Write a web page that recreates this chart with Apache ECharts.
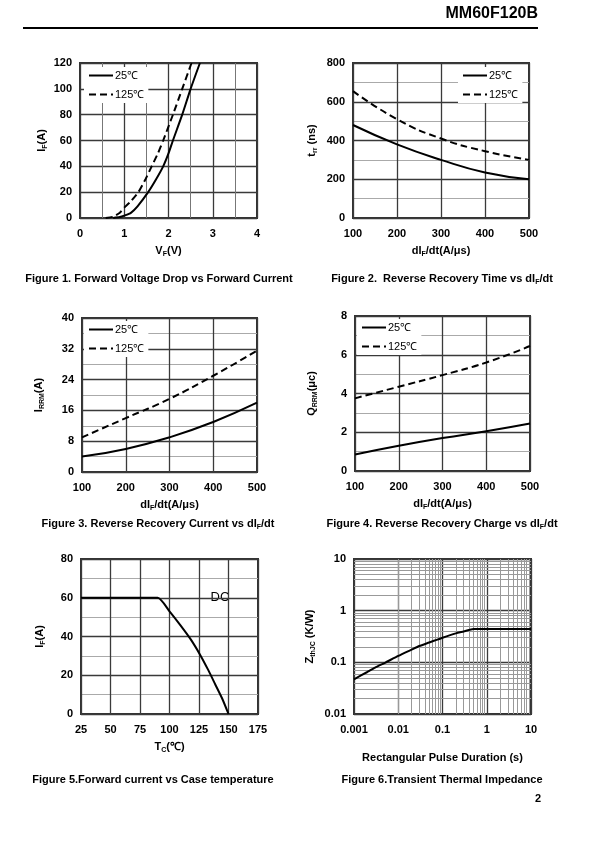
<!DOCTYPE html>
<html><head><meta charset="utf-8">
<script src="https://cdn.jsdelivr.net/npm/echarts@6/dist/echarts.min.js"></script>
<style>html,body{margin:0;padding:0;background:#fff}#c{width:595px;height:842px}</style>
</head><body><div id="c"></div>
<script>
// ---------- data ----------
const legendNames = ['25℃', '125℃'];
// Figure 1: forward voltage (V) vs forward current (A)
const f1Vf25 = [0.75, 0.9, 1.0, 1.15, 1.3, 1.54, 1.72, 1.88, 2.0, 2.1, 2.31, 2.5, 2.71];
const f1If25 = [0, 0.7, 1.8, 4, 9, 20, 30, 40, 50, 60, 80, 100, 120];
const f1Vf125 = [0.58, 0.75, 0.9, 1.0, 1.15, 1.32, 1.48, 1.62, 1.76, 1.88, 2.1, 2.31, 2.52];
const f1If125 = [0, 1, 4, 8, 13, 20, 30, 40, 50, 60, 80, 100, 120];
// Figures 2-4: dIF/dt (A/us)
const didt = [100, 200, 300, 400, 500];
const f2Trr25 = [480, 380, 300, 235, 200];
const f2Trr125 = [655, 510, 410, 345, 300];
const f3Irrm25 = [4, 6, 9, 13, 18];
const f3Irrm125 = [9, 14, 19, 25, 31.5];
const f4Qrr25 = [0.85, 1.3, 1.7, 2.05, 2.45];
const f4Qrr125 = [3.75, 4.35, 4.95, 5.6, 6.45];
// Figure 5: case temperature vs IF (DC)
const f5Tc = [25, 90, 100, 109, 118, 126, 133, 139, 145, 150];
const f5If = [60, 60, 53, 46, 38.5, 30.5, 22.5, 15, 7.5, 0];
// Figure 6: transient thermal impedance
const f6T = [0.001, 0.002, 0.003, 0.005, 0.01, 0.02, 0.03, 0.05, 0.1, 0.2, 0.3, 0.5, 1, 2, 5, 10];
const f6Z = [0.047, 0.065, 0.079, 0.098, 0.133, 0.176, 0.207, 0.242, 0.30, 0.364, 0.395, 0.44, 0.44, 0.44, 0.44, 0.44];
// log minor grid values for Figure 6
const f6MinorX = [];
[0.001, 0.01, 0.1, 1].forEach(d => { for (let k = 2; k <= 9; k++) f6MinorX.push(+(d * k).toPrecision(3)); });
const f6MinorY = [];
[0.01, 0.1, 1].forEach(d => { for (let k = 2; k <= 9; k++) f6MinorY.push(+(d * k).toPrecision(3)); });

// ---------- styles ----------
const FF = '"Liberation Sans", Arial, Helvetica, sans-serif';
const zip = (a, b) => a.map((v, i) => [v, b[i]]);
const majorLine = { show: true, lineStyle: { color: '#3a3a3a', width: 1.3 } };
const minorLine = (c) => ({ show: true, lineStyle: { color: c || '#aaa', width: 1 } });
const label = { color: '#000', fontFamily: FF, fontWeight: 'bold', fontSize: 11, margin: 10 };
const ylabel = Object.assign({}, label, { margin: 8 });
const richName = {
  m: { fontFamily: FF, fontWeight: 'bold', fontSize: 11, lineHeight: 14, color: '#000' },
  s: { fontFamily: FF, fontWeight: 'bold', fontSize: 7, lineHeight: 8, verticalAlign: 'bottom', color: '#000' }
};
function xAx(idx, o) {
  return Object.assign({
    gridIndex: idx, type: 'value', nameLocation: 'middle', nameGap: 26,
    nameTextStyle: { rich: richName },
    axisLine: { show: false }, axisTick: { show: false },
    axisLabel: label, splitLine: majorLine
  }, o);
}
function yAx(idx, o) {
  return Object.assign({
    gridIndex: idx, type: 'value', nameLocation: 'middle', nameGap: 31, nameRotate: 90,
    nameTextStyle: { rich: richName },
    axisLine: { show: false }, axisTick: { show: false },
    axisLabel: ylabel, splitLine: majorLine
  }, o);
}
const solid = { color: '#000', width: 2 };
const dashed = { color: '#000', width: 2, type: [7, 4] };
function ser(idx, name, data, ls, smooth) {
  return { type: 'line', name: name, xAxisIndex: idx, yAxisIndex: idx, data: data,
    symbol: 'none', smooth: smooth, lineStyle: ls, itemStyle: { color: '#000' }, z: 5 };
}
function leg(left, top) {
  return { data: legendNames, orient: 'vertical', left: left, top: top, backgroundColor: '#fff',
    padding: [3, 4, 3, 4], itemWidth: 24, itemHeight: 10, itemGap: 8,
    itemStyle: { opacity: 0 },
    textStyle: { fontFamily: FF, fontSize: 11, color: '#000', padding: [0, 0, 0, -3] } };
}
const gridBase = { show: true, borderColor: '#333', borderWidth: 2, backgroundColor: 'transparent' };
const capRich = { m: { font: 'bold 11px ' + FF, lineHeight: 14 }, s: { font: 'bold 7px ' + FF, lineHeight: 8, verticalAlign: 'bottom' } };
const capText = (x, y, t) => ({ type: 'text', x: x, y: y, style: { text: t, fill: '#000', align: 'center', verticalAlign: 'middle', font: 'bold 11px ' + FF, rich: capRich } });

const option = {
  animation: false,
  backgroundColor: '#fff',
  grid: [
    Object.assign({ left: 80, top: 63, width: 177, height: 155 }, gridBase),
    Object.assign({ left: 353, top: 63, width: 176, height: 155 }, gridBase),
    Object.assign({ left: 82, top: 318, width: 175, height: 154 }, gridBase),
    Object.assign({ left: 355, top: 316, width: 175, height: 155 }, gridBase),
    Object.assign({ left: 81, top: 559, width: 177, height: 155 }, gridBase),
    Object.assign({ left: 354, top: 559, width: 177, height: 155 }, gridBase)
  ],
  xAxis: [
    xAx(0, { min: 0, max: 4, interval: 1, name: '{m|V}{s|F}{m|(V)}', minorTick: { show: false, splitNumber: 2 }, minorSplitLine: minorLine('#777') }),
    xAx(1, { min: 100, max: 500, interval: 100, name: '{m|dI}{s|F}{m|/dt(A/μs)}' }),
    xAx(2, { min: 100, max: 500, interval: 100, name: '{m|dI}{s|F}{m|/dt(A/μs)}' }),
    xAx(3, { min: 100, max: 500, interval: 100, name: '{m|dI}{s|F}{m|/dt(A/μs)}' }),
    xAx(4, { min: 25, max: 175, interval: 25, name: '{m|T}{s|C}{m|(℃)}' }),
    xAx(5, { type: 'log', logBase: 10, min: 0.001, max: 10, name: '{m|Rectangular Pulse Duration (s)}', nameGap: 37,
      axisLabel: Object.assign({}, label, { formatter: v => String(+(+v).toPrecision(3)) }) })
  ],
  yAxis: [
    yAx(0, { min: 0, max: 120, interval: 20, name: '{m|I}{s|F}{m|(A)}' }),
    yAx(1, { min: 0, max: 800, interval: 200, name: '{m|t}{s|rr}{m| (ns)}', nameGap: 34, minorTick: { show: false, splitNumber: 2 }, minorSplitLine: minorLine() }),
    yAx(2, { min: 0, max: 40, interval: 8, name: '{m|I}{s|RRM}{m|(A)}', nameGap: 36, minorTick: { show: false, splitNumber: 2 }, minorSplitLine: minorLine() }),
    yAx(3, { min: 0, max: 8, interval: 2, name: '{m|Q}{s|RRM}{m|(μc)}', nameGap: 36, minorTick: { show: false, splitNumber: 2 }, minorSplitLine: minorLine() }),
    yAx(4, { min: 0, max: 80, interval: 20, name: '{m|I}{s|F}{m|(A)}', nameGap: 34, minorTick: { show: false, splitNumber: 2 }, minorSplitLine: minorLine() }),
    yAx(5, { type: 'log', logBase: 10, min: 0.01, max: 10, name: '{m|Z}{s|thJC}{m| (K/W)}', nameGap: 37,
      axisLabel: Object.assign({}, ylabel, { formatter: v => String(+(+v).toPrecision(3)) }) })
  ],
  legend: [leg(84, 67), leg(458, 67), leg(84, 321), leg(357, 319)],
  series: [
    ser(0, '25℃', zip(f1Vf25, f1If25), solid, 0.2),
    ser(0, '125℃', zip(f1Vf125, f1If125), dashed, 0.2),
    ser(1, '25℃', zip(didt, f2Trr25), solid, true),
    ser(1, '125℃', zip(didt, f2Trr125), dashed, true),
    ser(2, '25℃', zip(didt, f3Irrm25), solid, true),
    ser(2, '125℃', zip(didt, f3Irrm125), dashed, true),
    ser(3, '25℃', zip(didt, f4Qrr25), solid, true),
    ser(3, '125℃', zip(didt, f4Qrr125), dashed, true),
    ser(4, 'DC', zip(f5Tc, f5If), solid, 0.2),
    Object.assign(ser(5, 'Zth', zip(f6T, f6Z), solid, 0.2), {
      markLine: { silent: true, symbol: ['none', 'none'], label: { show: false }, animation: false,
        lineStyle: { color: '#999', width: 1, type: 'solid' },
        data: f6MinorX.map(v => ({ xAxis: v })).concat(f6MinorY.map(v => ({ yAxis: v }))) }
    })
  ],
  graphic: [
    { type: 'text', x: 538, y: 14, style: { text: 'MM60F120B', font: 'bold 16px ' + FF, fill: '#000', align: 'right', verticalAlign: 'middle' } },
    { type: 'line', shape: { x1: 23, y1: 28, x2: 538, y2: 28 }, style: { stroke: '#000', lineWidth: 2 } },
    capText(159, 279, '{m|Figure 1. Forward Voltage Drop vs Forward Current}'),
    capText(442, 279, '{m|Figure 2.  Reverse Recovery Time vs dI}{s|F}{m|/dt}'),
    capText(158, 524, '{m|Figure 3. Reverse Recovery Current vs dI}{s|F}{m|/dt}'),
    capText(442, 524, '{m|Figure 4. Reverse Recovery Charge vs dI}{s|F}{m|/dt}'),
    capText(153, 780, '{m|Figure 5.Forward current vs Case temperature}'),
    capText(442, 780, '{m|Figure 6.Transient Thermal Impedance}'),
    { type: 'text', x: 538, y: 799, style: { text: '2', font: 'bold 11px ' + FF, fill: '#000', align: 'center', verticalAlign: 'middle' } },
    { type: 'text', x: 220, y: 597, style: { text: 'DC', font: '13px ' + FF, fill: '#000', align: 'center', verticalAlign: 'middle' } }
  ]
};
const chart = echarts.init(document.getElementById('c'), null, { renderer: 'canvas' });
chart.setOption(option);
</script>
</body></html>
